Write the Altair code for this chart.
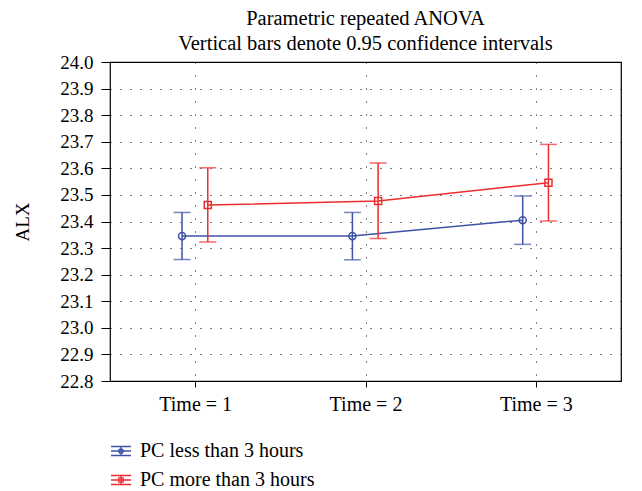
import altair as alt
import pandas as pd

groups = ["PC less than 3 hours", "PC more than 3 hours"]
times = [1, 2, 3]
offsets = [-0.077, 0.074]
means_less = [23.345, 23.345, 23.405]
lo_less = [23.257, 23.256, 23.314]
hi_less = [23.434, 23.434, 23.496]
means_more = [23.462, 23.477, 23.546]
lo_more = [23.323, 23.336, 23.402]
hi_more = [23.602, 23.620, 23.690]
y_ticks = [22.8, 22.9, 23.0, 23.1, 23.2, 23.3, 23.4, 23.5, 23.6, 23.7, 23.8, 23.9, 24.0]
colors = ["#3d52a6", "#ee2b2f"]
FONT = "Liberation Serif"

rows = []
for g, off, m, lo, hi in [
    (groups[0], offsets[0], means_less, lo_less, hi_less),
    (groups[1], offsets[1], means_more, lo_more, hi_more),
]:
    for t, mv, l, h in zip(times, m, lo, hi):
        rows.append({"group": g, "time": t + off, "mean": mv, "lo": l, "hi": h})
df = pd.DataFrame(rows)

xscale = alt.Scale(domain=[0.5, 3.5], nice=False, zero=False)
yscale = alt.Scale(domain=[22.8, 24.0], nice=False, zero=False)
cscale = alt.Scale(domain=groups, range=colors)

x_axis = alt.Axis(values=times, labelExpr="'Time = ' + datum.value", title=None,
                  grid=True, gridDash=[1, 12], gridColor="#000000", gridWidth=1,
                  tickSize=6, tickColor="#000000", labelPadding=7, domain=False,
                  labelFont=FONT, labelFontSize=20, labelOverlap=False)
y_axis = alt.Axis(values=y_ticks, format=".1f", title="ALX",
                  grid=True, gridDash=[1, 9], gridColor="#000000", gridWidth=1,
                  tickSize=9, tickColor="#000000", labelPadding=8, domain=False,
                  labelFont=FONT, labelFontSize=19, labelOverlap=False, labelFlush=False,
                  titleFont=FONT, titleFontSize=19, titleFontWeight="normal", titlePadding=27)

base = alt.Chart(df)

X = alt.X("time:Q", scale=xscale, axis=x_axis)
Ym = alt.Y("mean:Q", scale=yscale, axis=y_axis)
Ylo = alt.Y("lo:Q", scale=yscale, axis=y_axis)
Yhi = alt.Y("hi:Q", scale=yscale, axis=y_axis)
col = alt.Color("group:N", scale=cscale, legend=None)

lines = base.mark_line(strokeWidth=1.5).encode(x=X, y=Ym, color=col, detail="group:N")
rules = base.mark_rule(strokeWidth=1.5).encode(x=X, y=Ylo, y2="hi:Q", color=col)
caps_lo = base.mark_tick(orient="horizontal", size=17, thickness=1.5).encode(x=X, y=Ylo, color=col)
caps_hi = base.mark_tick(orient="horizontal", size=17, thickness=1.5).encode(x=X, y=Yhi, color=col)
points = base.mark_point(filled=False, strokeWidth=1.5, size=50, opacity=1).encode(
    x=X, y=Ym, color=col,
    shape=alt.Shape("group:N", scale=alt.Scale(domain=groups, range=["circle", "square"]), legend=None))

blue_icon = ("M-1,-0.45H1M-1,0H1M-1,0.45H1M0,-0.45V0.45"
             "M0.22,0A0.22,0.22 0 1,1 -0.22,0A0.22,0.22 0 1,1 0.22,0")
red_icon = ("M-1,-0.45H1M-1,0H1M-1,0.45H1M0,-0.45V0.45"
            "M-0.22,-0.22H0.22V0.22H-0.22Z")

leg = alt.Legend(title=None, orient="none", legendX=0, legendY=378,
                 direction="vertical", labelFont=FONT, labelFontSize=20, labelColor="#000000",
                 labelLimit=400, symbolSize=400, symbolStrokeWidth=1.3,
                 symbolFillColor="transparent", symbolOpacity=1, rowPadding=8,
                 labelOffset=8)

legend_layer = base.mark_point(filled=False, opacity=0, size=400).encode(
    x=X, y=Ym,
    color=alt.Color("group:N", scale=alt.Scale(domain=groups, range=colors), legend=leg),
    shape=alt.Shape("group:N", scale=alt.Scale(domain=groups, range=[blue_icon, red_icon]), legend=leg),
)

chart = alt.layer(lines, rules, caps_lo, caps_hi, points, legend_layer).resolve_scale(
    color="independent", shape="independent"
).properties(
    width=511, height=319,
    title=alt.TitleParams(["Parametric repeated ANOVA", "Vertical bars denote 0.95 confidence intervals"],
                          font=FONT, fontSize=20.5, fontWeight="normal", lineHeight=25, offset=-1,
                          anchor="middle", color="#000000"),
    autosize=alt.AutoSizeParams(type="none"),
    padding={"left": 102, "top": 54, "right": 13, "bottom": 108},
).configure(font=FONT).configure_view(
    stroke="#000000", strokeWidth=1.2
).configure_axis(labelColor="#000000", titleColor="#000000")

chart.save("out.html", embed_options={"renderer": "svg", "actions": False})
